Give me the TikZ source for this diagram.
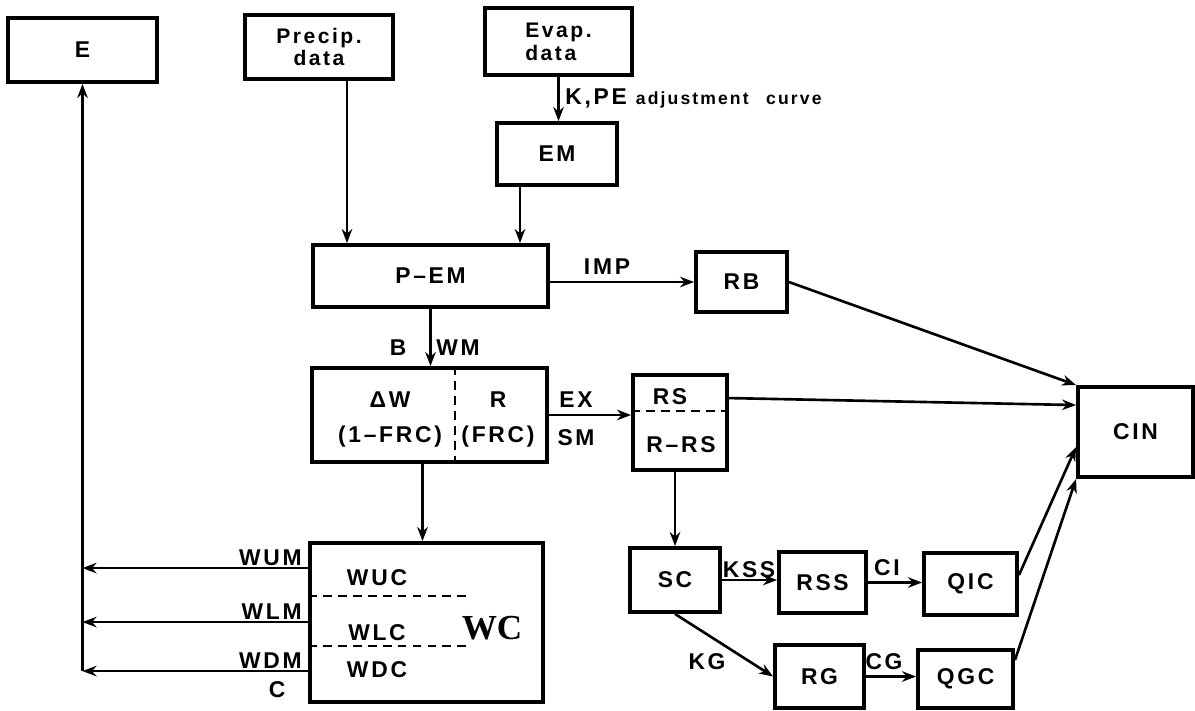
\documentclass[tikz,border=0pt]{standalone}
\usepackage{fontspec}
\setmainfont{Liberation Sans}[LetterSpace=12]
\newfontfamily\wcfont{Liberation Serif}
\usetikzlibrary{arrows.meta,calc}

\begin{document}
\begin{tikzpicture}[x=0.02cm,y=-0.02cm,
  blk/.style={draw,line width=2.2pt,inner sep=1pt,align=center,font=\fontsize{13}{15}\selectfont\bfseries},
  sz/.style n args={2}{minimum width=#1*0.02cm,minimum height=#2*0.02cm},
  arr/.style={line width=1.5pt,-{Stealth[length=8pt,width=6pt]}},
  lbl/.style={inner sep=0pt,font=\fontsize{13}{15}\selectfont\bfseries},
  cut/.style={line width=1.4pt,dash pattern=on 5pt off 3.5pt}]
\useasboundingbox (0,0) rectangle (1195,710);
% boxes
\node[blk,sz={149}{64}] (E) at (82.5,50) {E};
\node[blk,sz={148}{64},font=\fontsize{12}{13}\selectfont\bfseries] (prec) at (319,47) {Precip.\\data};
\node[blk,sz={147}{67},align=left,font=\fontsize{12}{13}\selectfont\bfseries] (evap) at (558.5,41.5) {Evap.\\data};
\node[blk,sz={120}{62}] (em) at (557,154) {EM};
\node[blk,sz={235}{62}] (pem) at (430.5,276) {P--EM};
\node[blk,sz={91}{60}] (rb) at (741.5,282) {RB};
\node[blk,sz={235}{94}] (dw) at (429.5,415) {};
\node[blk,sz={94}{95}] (rs) at (680,422.5) {};
\node[blk,sz={115}{90}] (cin) at (1135.5,432) {CIN};
\node[blk,sz={233}{159}] (wc) at (426.5,622.5) {};
\node[blk,sz={90}{64}] (sc) at (675,580) {SC};
\node[blk,sz={87}{61}] (rss) at (822.5,582.5) {RSS};
\node[blk,sz={93}{62}] (qic) at (970.5,584) {QIC};
\node[blk,sz={89}{63}] (rg) at (819.5,676.5) {RG};
\node[blk,sz={95}{58}] (qgc) at (965.5,679) {QGC};
% split boxes
\node[lbl] (dwa) at (390,400) {ΔW}; \node[lbl] (dwb) at (390,437) {(1--FRC)};
\node[lbl] (ra) at (498,400) {R}; \node[lbl] (rfrc) at (498,437) {(FRC)};
\draw[cut] ($(dw.north west)+(145,0)$) -- ($(dw.south west)+(145,0)$);
\node[lbl] (rstop) at (670,397) {RS}; \node[lbl] (rsbot) at (681,445) {R--RS};
\draw[cut] ($(rs.north west)+(0,38)$) -- ($(rs.north east)+(0,38)$);
\foreach \n/\t/\y in {wuc/WUC/578,wlc/WLC/633,wdc/WDC/670}{\node[lbl] (\n) at (377,\y) {\t};}
\foreach \y in {55,105}{\draw[cut] ($(wc.north west)+(0,\y)$) -- ($(wc.north west)+(161,\y)$);}
\node[inner sep=0pt,font=\fontsize{20}{22}\selectfont\wcfont\bfseries] (wcl) at (492,628) {WC};
% connectors
\coordinate (p1) at ($(prec.south)+(28,0)$); \draw[arr] (p1) -- (p1 |- pem.north);
\draw[arr] (evap.south) -- (evap.south |- em.north);
\node[lbl,anchor=south west] (kpe) at (565,108) {K,PE \fontsize{10}{12}\selectfont adjustment\quad curve};
\coordinate (e1) at ($(em.south)+(-37,0)$); \draw[arr] (e1) -- (e1 |- pem.north);
\draw[arr] (rb.west -| pem.east) -- (rb.west); \node[lbl] (imp) at (607,267) {IMP};
\draw[arr] (pem.south) -- (pem.south |- dw.north); \node[lbl] (bl) at (398,348) {B}; \node[lbl] (wml) at (458,348) {WM};
\coordinate (d1) at ($(dw.south)+(-7,0)$); \draw[arr] (d1) -- (d1 |- wc.north);
\draw[arr] (dw.east) -- (dw.east -| rs.west); \node[lbl] (ex) at (576,400) {EX}; \node[lbl] (sm) at (576,438) {SM};
\draw[arr] (sc.north |- rs.south) -- (sc.north);
\draw[arr] (rb.east) -- (cin.north west);
\draw[arr] ($(rs.north east)+(0,25)$) -- ($(cin.north west)+(0,20)$);
\draw[arr] ($(qic.north east)+(0,24)$) -- ($(cin.west)+(0,15)$);
\draw[arr] ($(qgc.north east)+(0,12)$) -- (cin.south west);
\draw[arr] (sc.east) -- (sc.east -| rss.west); \node[lbl] (kss) at (749,570) {KSS};
\draw[arr] (rss.east) -- (rss.east -| qic.west); \node[lbl] (ci) at (887,568) {CI};
\draw[arr] (sc.south) -- (rg.west); \node[lbl] (kg) at (707,662) {KG};
\draw[arr] (rg.east) -- (rg.east -| qgc.west); \node[lbl] (cg) at (884,662) {CG};
% losses to E
\foreach \n/\t/\dy in {wum/WUM/27,wlm/WLM/81,wdm/WDM/130}{
  \coordinate (\n) at ($(wc.north west)+(0,\dy)$);
  \draw[arr] (\n) -- (\n -| E.south);
  \node[lbl,anchor=south east] (l\n) at ($(\n)+(-6,-2)$) {\t};}
\draw[arr] (wdm -| E.south) -- (E.south); \node[lbl] (cl) at (277,690) {C};
\end{tikzpicture}
\end{document}
